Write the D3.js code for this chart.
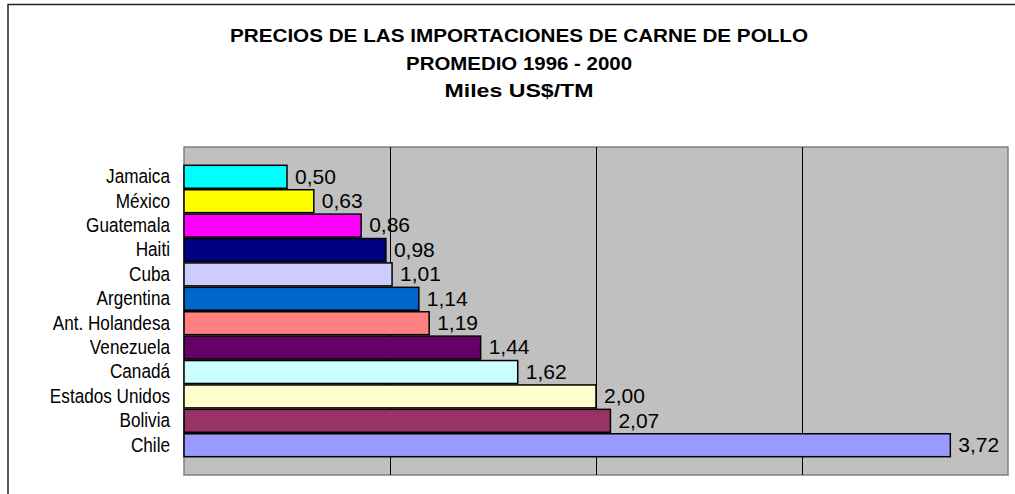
<!DOCTYPE html>
<html>
<head>
<meta charset="utf-8">
<script src="https://cdn.jsdelivr.net/npm/d3@7"></script>
<style>
  html, body { margin: 0; padding: 0; background: #fff; }
  svg { display: block; font-family: "Liberation Sans", Arial, sans-serif; }
</style>
</head>
<body>
<svg id="chart" width="1015" height="494"></svg>
<script>
// chart data, top bar first
const categories = ['Jamaica', 'México', 'Guatemala', 'Haiti', 'Cuba', 'Argentina',
  'Ant. Holandesa', 'Venezuela', 'Canadá', 'Estados Unidos', 'Bolivia', 'Chile'];
const values = [0.50, 0.63, 0.86, 0.98, 1.01, 1.14, 1.19, 1.44, 1.62, 2.00, 2.07, 3.72];
const barColors = ['#00ffff', '#ffff00', '#ff00ff', '#000080', '#ccccff', '#0066cc',
  '#ff8080', '#660066', '#ccffff', '#ffffcc', '#993366', '#9999ff'];
const gridTicks = [1, 2, 3];
const titleLines = ['PRECIOS DE LAS IMPORTACIONES DE CARNE DE POLLO', 'PROMEDIO 1996 - 2000', 'Miles US$/TM'];

const width = 1015,
  height = 494,
  plot = { left: 184, top: 147, right: 1008, bottom: 475 };

const svg = d3.select('#chart');
const esFormat = d3.formatLocale({ decimal: ',', thousands: '.', grouping: [3], currency: ['$', ''] }).format('.2f');

// chart area border (runs off the right and bottom of the picture)
svg.append('rect')
  .attr('x', 8).attr('y', 4.5)
  .attr('width', width + 20).attr('height', height + 20)
  .attr('fill', '#fff')
  .attr('stroke', '#222')
  .attr('stroke-width', 1.5);

// title
const titleBase = [42, 70, 97],
  titleWidth = [578, 226, 149];
svg.append('g')
  .selectAll('text')
  .data(titleLines)
  .join('text')
  .attr('x', 519)
  .attr('y', (d, i) => titleBase[i])
  .attr('text-anchor', 'middle')
  .attr('font-weight', 'bold')
  .attr('font-size', 17.5)
  .attr('textLength', (d, i) => titleWidth[i])
  .attr('lengthAdjust', 'spacingAndGlyphs')
  .text(d => d);

const x = d3.scaleLinear()
  .domain([0, 4])
  .range([plot.left, plot.right]);

const y = d3.scaleBand()
  .domain(categories)
  .range([plot.top, plot.bottom])
  .paddingInner(0.06)
  .paddingOuter(0.75);

// plot area
svg.append('rect')
  .attr('x', plot.left).attr('y', plot.top)
  .attr('width', plot.right - plot.left)
  .attr('height', plot.bottom - plot.top)
  .attr('fill', '#c0c0c0')
  .attr('stroke', '#808080')
  .attr('stroke-width', 1.5);

svg.append('g')
  .selectAll('line')
  .data(gridTicks)
  .join('line')
  .attr('x1', d => Math.round(x(d)) + 0.5)
  .attr('x2', d => Math.round(x(d)) + 0.5)
  .attr('y1', plot.top)
  .attr('y2', plot.bottom)
  .attr('stroke', '#000')
  .attr('stroke-width', 1);

const rows = categories.map((name, i) => ({ name, value: values[i], color: barColors[i] }));

// bars
svg.append('g')
  .selectAll('rect')
  .data(rows)
  .join('rect')
  .attr('x', x(0))
  .attr('y', d => y(d.name))
  .attr('width', d => x(d.value) - x(0))
  .attr('height', y.bandwidth())
  .attr('fill', d => d.color)
  .attr('stroke', '#000')
  .attr('stroke-width', 1.5);

// value labels
svg.append('g')
  .selectAll('text')
  .data(rows)
  .join('text')
  .attr('x', d => x(d.value) + 8)
  .attr('y', d => y(d.name) + y.bandwidth() / 2 + 6.8)
  .attr('font-size', 21)
  .attr('fill', '#000')
  .text(d => esFormat(d.value));

// category labels, slightly condensed like the original
svg.append('g')
  .attr('transform', 'translate(170,0) scale(0.88,1)')
  .selectAll('text')
  .data(categories)
  .join('text')
  .attr('x', 0)
  .attr('y', d => y(d) + y.bandwidth() / 2 + 6.4)
  .attr('text-anchor', 'end')
  .attr('font-size', 19.5)
  .attr('fill', '#000')
  .text(d => d);
</script>
</body>
</html>
